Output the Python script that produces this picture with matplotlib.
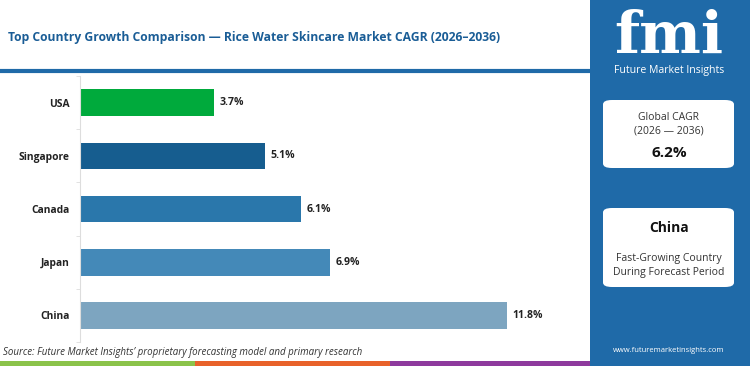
import matplotlib.pyplot as plt
from matplotlib.patches import Rectangle, FancyBboxPatch
from matplotlib.lines import Line2D

# ===== data =====
countries = ["USA", "Singapore", "Canada", "Japan", "China"]
cagr = [3.7, 5.1, 6.1, 6.9, 11.8]
bar_colors = ["#00aa3c", "#165d8f", "#2a77ab", "#4489b8", "#7da5c0"]
title = "Top Country Growth Comparison \u2014 Rice Water Skincare Market CAGR (2026\u20132036)"
source = "Source: Future Market Insights\u2019 proprietary forecasting model and primary research"
global_cagr = "6.2%"
top_country = "China"

W, H = 750, 366
plt.rcParams["font.family"] = ["Open Sans", "DejaVu Sans"]

fig = plt.figure(figsize=(W / 100, H / 100), dpi=100)
fig.patch.set_facecolor("white")


def fx(x):
    return x / W


def fy(y):
    return 1 - y / H


PANEL = "#1f6aa8"

# ===== main bar axes =====
ax = fig.add_axes([fx(80), fy(342), fx(587) - fx(80), fy(76) - fy(342)])
ypos = list(range(len(countries)))
ax.barh(ypos, cagr, height=0.5, color=bar_colors)
ax.set_xlim(0, 14)
ax.set_ylim(len(countries) - 0.5, -0.5)
for y, v in zip(ypos, cagr):
    ax.text(v + 0.15, y, f"{v}%", va="center", ha="left", fontsize=7.6,
            fontweight="bold", color="#222222")
ax.set_yticks(ypos)
ax.set_yticklabels(countries, fontsize=7.4, fontweight="bold", color="#222222")
ax.tick_params(axis="y", which="major", length=0, pad=7.5)
ax.set_yticks([i + 0.5 for i in range(-1, len(countries))], minor=True)
ax.tick_params(axis="y", which="minor", length=3, color="#dddddd")
ax.set_xticks([])
for s in ["top", "right", "bottom"]:
    ax.spines[s].set_visible(False)
ax.spines["left"].set_color("#dddddd")
ax.set_facecolor("none")

# ===== title + underline =====
fig.text(fx(8), fy(37), title, fontsize=8.7, fontweight="bold", color="#1a5d96",
         va="center", ha="left")
fig.add_artist(Line2D([0, fx(590)], [fy(71), fy(71)], color=PANEL, lw=3))

# ===== source =====
fig.text(fx(3), fy(353), source, fontsize=7.0, style="italic", color="#333333",
         va="center", ha="left")

# ===== bottom colour strip =====
strip = [("#8bc34a", 0, 195), ("#e8622a", 195, 390), ("#8e3a9d", 390, 590)]
for c, x0, x1 in strip:
    fig.add_artist(Rectangle((fx(x0), 0), fx(x1) - fx(x0), fy(361), color=c, lw=0))

# ===== right panel =====
fig.add_artist(Rectangle((fx(590), 0), 1 - fx(590), 1, color=PANEL, lw=0))

# logo
fig.text(fx(669), fy(37), "fmi", fontsize=42, fontweight="bold", family="DejaVu Serif",
         color="white", ha="center", va="center")
for yy in range(16, 62, 4):
    fig.add_artist(Line2D([fx(612), fx(728)], [fy(yy), fy(yy)], color=PANEL, lw=0.8))
fig.text(fx(669), fy(71), "Future Market Insights", fontsize=7.6, color="white",
         ha="center", va="center")

# boxes
for (y0, y1) in [(100, 168), (208, 287)]:
    fig.add_artist(FancyBboxPatch((fx(603), fy(y1)), fx(734) - fx(603), fy(y0) - fy(y1),
                                  boxstyle="round,pad=0,rounding_size=0.012",
                                  fc="white", ec="none", transform=fig.transFigure))

fig.text(fx(669), fy(117), "Global CAGR", fontsize=7.5, color="#333333", ha="center", va="center")
fig.text(fx(669), fy(131), "(2026 \u2014 2036)", fontsize=7.5, color="#333333", ha="center", va="center")
fig.text(fx(669), fy(153), global_cagr, fontsize=11, fontweight="bold", color="#111111",
         ha="center", va="center")
fig.text(fx(669), fy(228), top_country, fontsize=10, fontweight="bold", color="#111111",
         ha="center", va="center")
fig.text(fx(669), fy(258), "Fast-Growing Country", fontsize=7.5, color="#333333", ha="center", va="center")
fig.text(fx(669), fy(272), "During Forecast Period", fontsize=7.5, color="#333333", ha="center", va="center")

fig.text(fx(669), fy(351), "www.futuremarketinsights.com", fontsize=5.5, color="white",
         ha="center", va="center")

fig.savefig("out.png", dpi=100, facecolor=fig.get_facecolor())
